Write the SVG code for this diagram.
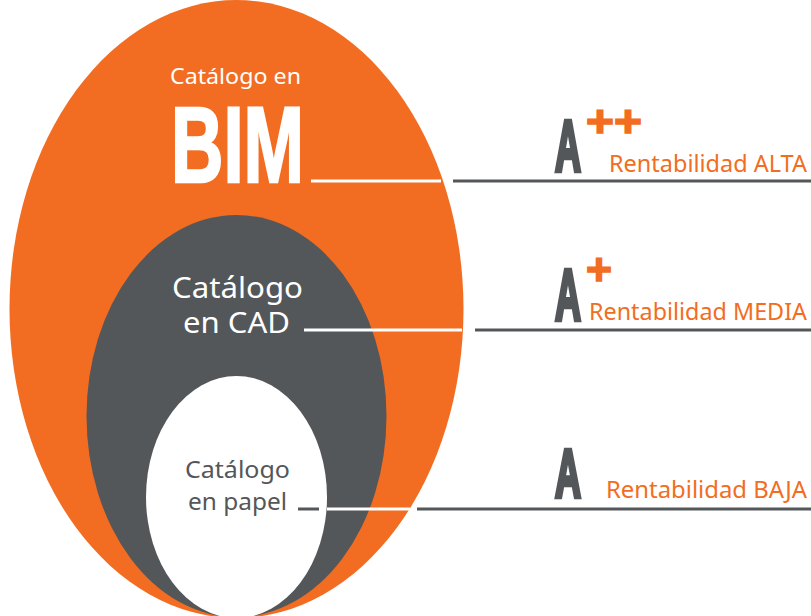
<svg xmlns="http://www.w3.org/2000/svg" width="811" height="616" viewBox="0 0 811 616">
<style>
.t{font-family:"Noto Sans","Open Sans",sans-serif}
.big{font-family:"Liberation Sans",Arial,sans-serif;font-weight:bold}
.ga{fill:#54575A;stroke:#54575A;stroke-width:4.5;stroke-linejoin:miter}
.pl{fill:#F26D21;stroke:#F26D21;stroke-width:1.5}
.lab{fill:#F26D21;font-size:23px}
.or{fill:#F26D21}
.gr{fill:#54575A}
.wl{stroke:#FFFFFF;stroke-width:3;fill:none}
.gl{stroke:#54575A;stroke-width:3;fill:none}
</style>
<rect width="811" height="616" fill="#FFFFFF"/>
<g id="bim">
<ellipse cx="236.5" cy="309" rx="227" ry="309" class="or"/>
<text x="170" y="84" class="t" font-size="21" fill="#FFFFFF" textLength="131" lengthAdjust="spacingAndGlyphs">Catálogo en</text>
<text x="171" y="182" class="big" font-size="108" fill="#FFFFFF" stroke="#FFFFFF" stroke-width="2.5" textLength="133" lengthAdjust="spacingAndGlyphs">BIM</text>
</g>
<g id="cad">
<ellipse cx="236.5" cy="416" rx="150" ry="201" class="gr"/>
<text x="172" y="298" class="t" font-size="29" fill="#FFFFFF" textLength="131" lengthAdjust="spacingAndGlyphs">Catálogo</text>
<text x="183" y="333" class="t" font-size="29" fill="#FFFFFF" textLength="107" lengthAdjust="spacingAndGlyphs">en CAD</text>
</g>
<g id="papel">
<ellipse cx="236.5" cy="497" rx="90.5" ry="121" fill="#FFFFFF"/>
<text x="185" y="478" class="t" font-size="23" fill="#54575A" textLength="105" lengthAdjust="spacingAndGlyphs">Catálogo</text>
<text x="188" y="510" class="t" font-size="23" fill="#54575A" textLength="99" lengthAdjust="spacingAndGlyphs">en papel</text>
</g>
<g id="connectors">
<line x1="311" y1="181" x2="441" y2="181" class="wl"/>
<line x1="453" y1="181" x2="811" y2="181" class="gl"/>
<line x1="304" y1="330" x2="462" y2="330" class="wl"/>
<line x1="475" y1="330" x2="811" y2="330" class="gl"/>
<line x1="298" y1="509" x2="319" y2="509" class="gl"/>
<line x1="327" y1="509" x2="410" y2="509" class="wl"/>
<line x1="417" y1="509" x2="811" y2="509" class="gl"/>
</g>
<g id="alta">
<text x="555" y="171" class="big ga" font-size="72" textLength="26" lengthAdjust="spacingAndGlyphs">A</text>
<text x="586" y="137" class="big pl" font-size="44" textLength="56" lengthAdjust="spacingAndGlyphs">++</text>
<text x="609" y="172" class="t lab" textLength="198" lengthAdjust="spacingAndGlyphs">Rentabilidad ALTA</text>
</g>
<g id="media">
<text x="555" y="320" class="big ga" font-size="72" textLength="26" lengthAdjust="spacingAndGlyphs">A</text>
<text x="586" y="285" class="big pl" font-size="44" textLength="26" lengthAdjust="spacingAndGlyphs">+</text>
<text x="589" y="320" class="t lab" textLength="218" lengthAdjust="spacingAndGlyphs">Rentabilidad MEDIA</text>
</g>
<g id="baja">
<text x="555" y="497" class="big ga" font-size="68" textLength="26" lengthAdjust="spacingAndGlyphs">A</text>
<text x="606" y="498" class="t lab" textLength="201" lengthAdjust="spacingAndGlyphs">Rentabilidad BAJA</text>
</g>
</svg>
